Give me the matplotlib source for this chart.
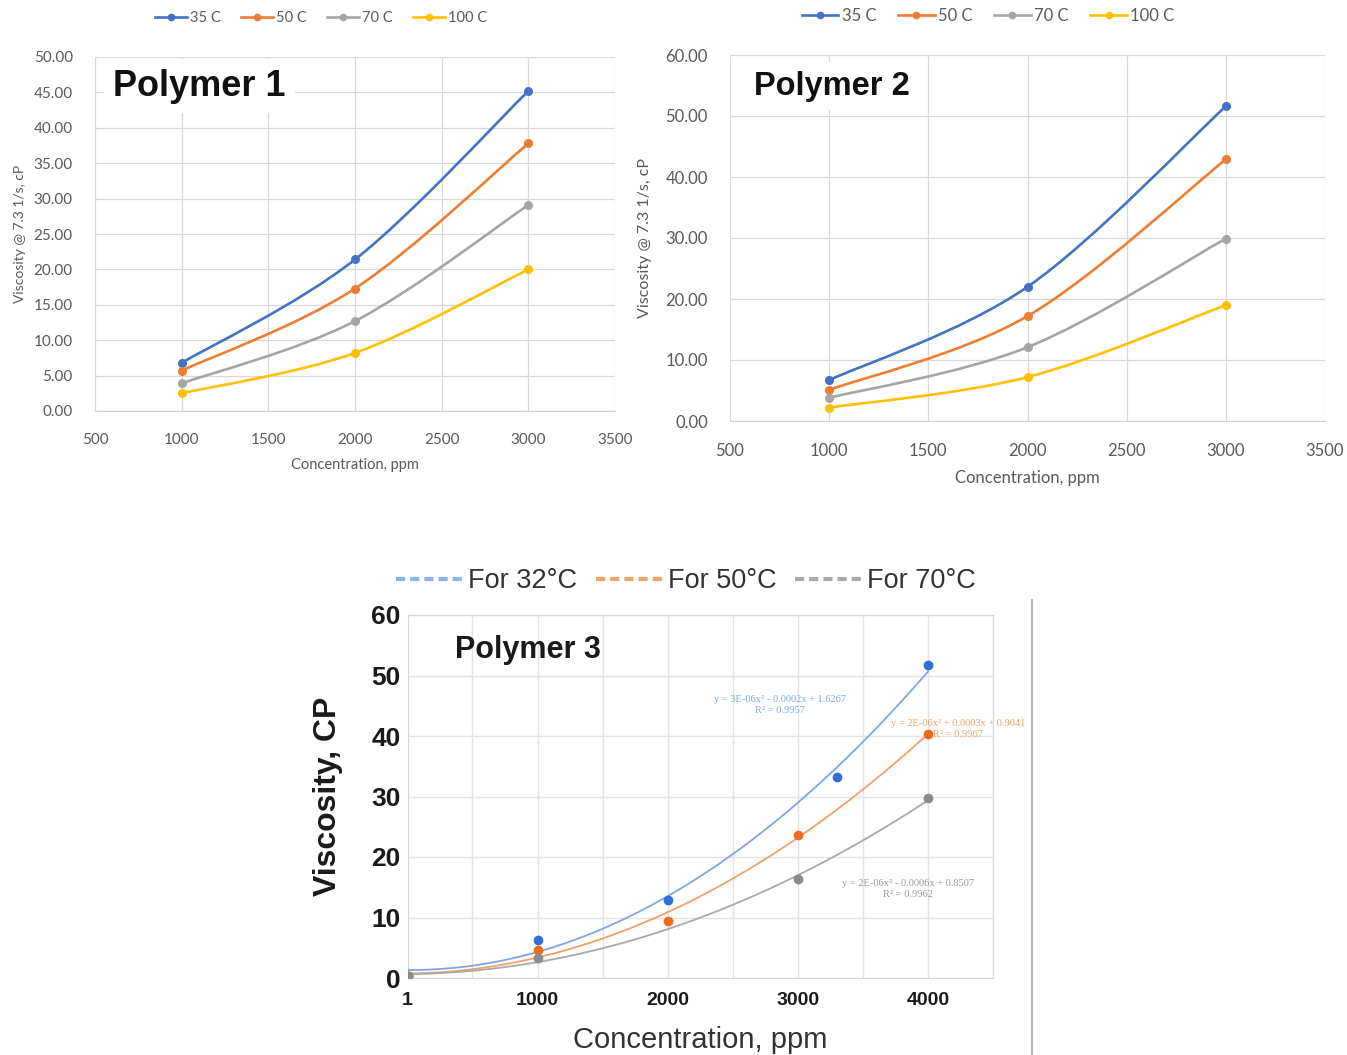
import numpy as np
import matplotlib
matplotlib.use("Agg")
import matplotlib.pyplot as plt
from matplotlib.path import Path
from matplotlib.patches import PathPatch
from matplotlib.lines import Line2D
from matplotlib.ticker import MultipleLocator, FormatStrFormatter, FixedLocator

# ---------------- data ----------------
conc_12 = [1000, 2000, 3000]
temps_12 = ["35 C", "50 C", "70 C", "100 C"]

p1_35 = [6.8, 21.4, 45.2]
p1_50 = [5.7, 17.3, 37.8]
p1_70 = [3.9, 12.7, 29.1]
p1_100 = [2.5, 8.2, 20.0]

p2_35 = [6.7, 22.0, 51.6]
p2_50 = [5.1, 17.2, 42.9]
p2_70 = [3.8, 12.1, 29.9]
p2_100 = [2.2, 7.2, 19.0]

p3_32_x = [1, 1000, 2000, 3300, 4000]
p3_32_y = [0.4, 6.3, 12.9, 33.3, 51.7]
p3_50_x = [1, 1000, 2000, 3000, 4000]
p3_50_y = [0.3, 4.7, 9.5, 23.7, 40.3]
p3_70_x = [1, 1000, 3000, 4000]
p3_70_y = [0.3, 3.3, 16.3, 29.7]
p3_labels = ["For 32°C", "For 50°C", "For 70°C"]
p3_eqs = ["y = 3E-06x² - 0.0002x + 1.6267\nR² = 0.9957",
          "y = 2E-06x² + 0.0003x + 0.9041\nR² = 0.9967",
          "y = 2E-06x² - 0.0006x + 0.8507\nR² = 0.9962"]

# ---------------- styling ----------------
W, H = 1347, 1055
excel = ["#4472C4", "#ED7D31", "#A5A5A5", "#FFC000"]
txt_gray = "#595959"
grid_c = "#d9d9d9"
calibri_like = ["Lato", "DejaVu Sans"]
arial_like = ["Liberation Sans", "DejaVu Sans"]

fig = plt.figure(figsize=(W / 100, H / 100), dpi=100)
fig.patch.set_facecolor("white")


def fx(px):
    return px / W


def fy(py):
    return 1 - py / H


def smooth_path(xs, ys):
    """Excel-style smoothed line through the points (cubic Bezier segments)."""
    pts = np.column_stack([xs, ys]).astype(float)
    n = len(pts)
    verts = [pts[0]]
    codes = [Path.MOVETO]
    for i in range(n - 1):
        p0 = pts[max(i - 1, 0)]
        p1 = pts[i]
        p2 = pts[i + 1]
        p3 = pts[min(i + 2, n - 1)]
        c1 = p1 + (p2 - p0) / 6.0
        c2 = p2 - (p3 - p1) / 6.0
        verts += [c1, c2, p2]
        codes += [Path.CURVE4] * 3
    return Path(verts, codes)


def excel_panel(rect, series, ymax, ystep, tick_fs, lab_fs, title, title_xy,
                title_fs, legend_xy, ylabel_x, colsp):
    ax = fig.add_axes(rect)
    ax.set_xlim(500, 3500)
    ax.set_ylim(0, ymax)
    ax.xaxis.set_major_locator(MultipleLocator(500))
    ax.yaxis.set_major_locator(MultipleLocator(ystep))
    ax.yaxis.set_major_formatter(FormatStrFormatter("%.2f"))
    ax.grid(True, color=grid_c, lw=0.9)
    ax.set_axisbelow(True)
    for s in ["top", "right", "left"]:
        ax.spines[s].set_visible(False)
    ax.spines["bottom"].set_color("#cfcfcf")
    ax.tick_params(length=0, labelsize=tick_fs, labelcolor=txt_gray)
    ax.tick_params(axis="x", pad=16)
    ax.tick_params(axis="y", pad=16)
    for lab in ax.get_xticklabels() + ax.get_yticklabels():
        lab.set_fontfamily(calibri_like)
    ax.set_xlabel("Concentration, ppm", fontsize=lab_fs, color=txt_gray,
                  family=calibri_like, labelpad=8)
    handles = []
    for ys, c, name in zip(series, excel, temps_12):
        ax.add_patch(PathPatch(smooth_path(conc_12, ys), fill=False,
                               edgecolor=c, lw=1.9, zorder=3))
        ax.plot(conc_12, ys, "o", color=c, ms=5.5, zorder=4)
        handles.append(Line2D([], [], color=c, lw=1.9, marker="o", ms=4.5,
                              label=name))
    fig.legend(handles=handles, loc="center", bbox_to_anchor=legend_xy,
               ncol=4, frameon=False, handlelength=2.2, handletextpad=0.2,
               columnspacing=colsp, prop={"family": calibri_like,
                                          "size": lab_fs},
               labelcolor=txt_gray)
    fig.text(ylabel_x, rect[1] + rect[3] / 2, "Viscosity @ 7.3 1/s, cP",
             rotation=90, ha="center", va="center", fontsize=lab_fs - 0.5,
             color=txt_gray, family=calibri_like)
    fig.text(title_xy[0], title_xy[1], title, fontsize=title_fs,
             fontweight="bold", family=arial_like, ha="left", va="center",
             color="#111111",
             bbox=dict(boxstyle="square,pad=0.25", fc="white", ec="none"))
    return ax


# ---------------- Polymer 1 ----------------
excel_panel([fx(95), fy(411), fx(615 - 95), (411 - 57) / H],
            [p1_35, p1_50, p1_70, p1_100], 50, 5, 11, 10.5,
            "Polymer 1", (fx(113), fy(86)), 26,
            (fx(321), fy(18)), fx(20), 1.4)

# ---------------- Polymer 2 ----------------
excel_panel([fx(730), fy(421), fx(1325 - 730), (421 - 55) / H],
            [p2_35, p2_50, p2_70, p2_100], 60, 10, 12, 12,
            "Polymer 2", (fx(754), fy(86)), 23.5,
            (fx(988), fy(16)), fx(645), 1.3)

# ---------------- Polymer 3 ----------------
ax3 = fig.add_axes([fx(407.5), fy(978), fx(993 - 407.5), (978 - 615) / H])
ax3.set_xlim(1, 4500)
ax3.set_ylim(0, 60)
ax3.xaxis.set_major_locator(FixedLocator([1, 1000, 2000, 3000, 4000]))
ax3.xaxis.set_minor_locator(FixedLocator([500, 1500, 2500, 3500, 4500]))
ax3.yaxis.set_major_locator(MultipleLocator(10))
ax3.grid(True, which="both", color="#e3e3e3", lw=1.0)
ax3.set_axisbelow(True)
for s in ax3.spines.values():
    s.set_color("#d6d6d6")
ax3.tick_params(which="both", length=0)
ax3.tick_params(axis="y", labelsize=19, pad=5)
ax3.tick_params(axis="x", labelsize=14, pad=10)
for lab in ax3.get_xticklabels() + ax3.get_yticklabels():
    lab.set_fontfamily(arial_like)
    lab.set_fontweight("bold")
    lab.set_color("#1a1a1a")
ax3.set_xlabel("Concentration, ppm", fontsize=21, family=arial_like,
               color="#333333", labelpad=12)
ax3.set_ylabel("Viscosity, CP", fontsize=23, family=arial_like,
               fontweight="bold", color="#1a1a1a", labelpad=20)

fit_cols = ["#7ea6e6", "#f3a06a", "#a8a8a8"]
pt_cols = ["#2f6fd6", "#ee6b1c", "#8a8a8a"]
leg_cols = ["#86b4ec", "#f2a267", "#a9a9a9"]
xs_fit = np.linspace(1, 4000, 300)
series3 = [(p3_32_x, p3_32_y), (p3_50_x, p3_50_y), (p3_70_x, p3_70_y)]
for (px_, py_), fc in zip(series3, fit_cols):
    coef = np.polyfit(px_, py_, 2)
    ax3.plot(xs_fit, np.polyval(coef, xs_fit), color=fc, lw=1.3, zorder=3)
for (px_, py_), pc in zip(series3, pt_cols):
    ax3.plot(px_, py_, "o", color=pc, ms=6, zorder=4)

eq_pos = [(780, 705, fit_cols[0]), (958, 729, fit_cols[1]),
          (908, 889, "#9a9a9a")]
for eq, (ex, ey, ec) in zip(p3_eqs, eq_pos):
    fig.text(fx(ex), fy(ey), eq, fontsize=7.5, color=ec,
             family=["Liberation Serif", "DejaVu Serif"], ha="center",
             va="center", linespacing=1.4)

fig.text(fx(455), fy(650), "Polymer 3", fontsize=22, fontweight="bold",
         family=arial_like, ha="left", va="center", color="#1a1a1a")

leg_handles = [Line2D([], [], color=c, lw=3, ls=(0, (2.2, 1.2)), label=l)
               for c, l in zip(leg_cols, p3_labels)]
fig.legend(handles=leg_handles, loc="center", bbox_to_anchor=(fx(686), fy(581)),
           ncol=3, frameon=False, handlelength=2.5, handletextpad=0.15,
           columnspacing=0.7, prop={"family": arial_like, "size": 19.5},
           labelcolor="#333333")

# right edge of the lower chart area
fig.add_artist(Line2D([fx(1032), fx(1032)], [0, fy(600)], color="#b5b5b5",
                      lw=1.5))

fig.savefig("out.png", dpi=100, facecolor="white")
